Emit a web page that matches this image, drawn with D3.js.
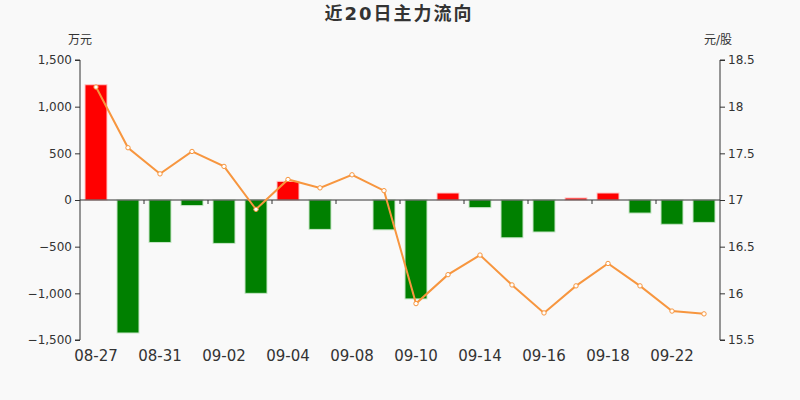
<!DOCTYPE html>
<html><head><meta charset="utf-8">
<script src="https://cdn.jsdelivr.net/npm/d3@7"></script>
<style>body{margin:0;background:#f9f9f9;}svg{display:block;font-family:"DejaVu Sans","Noto Sans CJK SC",sans-serif;}</style>
</head><body><svg id="c" width="800" height="400"></svg>
<script>
const dates = ["08-27","08-28","08-31","09-01","09-02","09-03","09-04","09-07","09-08","09-09","09-10","09-11","09-14","09-15","09-16","09-17","09-18","09-21","09-22","09-23"];
const flow = [1235,-1425,-455,-60,-465,-1000,200,-315,0,-320,-1060,75,-82,-405,-343,22,75,-140,-260,-240];
const price = [18.21,17.56,17.28,17.52,17.36,16.90,17.22,17.13,17.27,17.10,15.89,16.20,16.41,16.09,15.79,16.08,16.32,16.08,15.81,15.78];
const leftTicks = [-1500,-1000,-500,0,500,1000,1500];
const rightTicks = [15.5,16,16.5,17,17.5,18,18.5];

const FONT = '"DejaVu Sans","Noto Sans CJK SC",sans-serif';
const svg = d3.select("#c");
const L=80,R=720,T=60,B=340;
const x = d3.scaleBand().domain(dates).range([L,R]).paddingInner(0.3125).paddingOuter(0.15625);
const xb = d3.scaleBand().domain(dates).range([L,R]);
const y = d3.scaleLinear().domain([-1500,1500]).range([B,T]);
const y2 = d3.scaleLinear().domain([15.5,18.5]).range([B,T]);

svg.append("text").attr("x",399).attr("y",20).attr("text-anchor","middle").attr("font-size",18).attr("letter-spacing",2).attr("font-weight","bold").attr("fill","#333").text("近20日主力流向");
svg.append("text").attr("x",80).attr("y",44).attr("text-anchor","middle").attr("font-size",12).attr("fill","#333").text("万元");
svg.append("text").attr("x",718).attr("y",44).attr("text-anchor","middle").attr("font-size",12).attr("fill","#333").text("元/股");

// bars
svg.append("g").selectAll("rect").data(flow).join("rect")
  .attr("x",(d,i)=>x(dates[i])).attr("width",x.bandwidth())
  .attr("y",d=>y(Math.max(0,d))).attr("height",d=>Math.abs(y(d)-y(0)))
  .attr("fill",d=>d>=0?"#ff0000":"#008000")
  .attr("stroke",d=>d>=0?"#ffc8c8":"#c8e6c8").attr("stroke-width",1);

// left axis
const ga = svg.append("g").attr("transform",`translate(${L},0)`)
  .call(d3.axisLeft(y).tickValues(leftTicks).tickSize(5).tickPadding(3).tickFormat(d3.format(",")))
  .attr("font-family",FONT).attr("font-size",12);
ga.selectAll("text").attr("fill","#333");
ga.selectAll("line,path").attr("stroke","#333");
ga.select(".domain").attr("d",`M-5,${B}H0V${T}H-5`);

// right axis
const gb = svg.append("g").attr("transform",`translate(${R},0)`)
  .call(d3.axisRight(y2).tickValues(rightTicks).tickSize(5).tickPadding(3).tickFormat(d=>String(d)))
  .attr("font-family",FONT).attr("font-size",12);
gb.selectAll("text").attr("fill","#333");
gb.selectAll("line,path").attr("stroke","#333");
gb.select(".domain").attr("d",`M5,${B}H0V${T}H5`);

// x axis at zero
const tickDates = dates.filter((d,i)=>i%2===0);
const gx = svg.append("g");
gx.append("line").attr("x1",L).attr("x2",R).attr("y1",y(0)).attr("y2",y(0)).attr("stroke","#333");
gx.selectAll("line.t").data(tickDates.slice(1)).join("line").attr("class","t")
  .attr("x1",d=>xb(d)).attr("x2",d=>xb(d)).attr("y1",y(0)).attr("y2",y(0)+4).attr("stroke","#333");
gx.selectAll("text").data(tickDates).join("text")
  .attr("x",d=>xb(d)+xb.bandwidth()/2).attr("y",361).attr("text-anchor","middle")
  .attr("font-size",15).attr("fill","#333").text(d=>d);

// line
const cx = (i)=>xb(dates[i])+xb.bandwidth()/2;
svg.append("path").datum(price)
  .attr("d",d3.line().x((d,i)=>cx(i)).y(d=>y2(d)))
  .attr("fill","none").attr("stroke","#f7963f").attr("stroke-width",2);
svg.append("g").selectAll("circle").data(price).join("circle")
  .attr("cx",(d,i)=>cx(i)).attr("cy",d=>y2(d)).attr("r",2.2)
  .attr("fill","#fff").attr("stroke","#f7963f").attr("stroke-width",1);
</script></body></html>
